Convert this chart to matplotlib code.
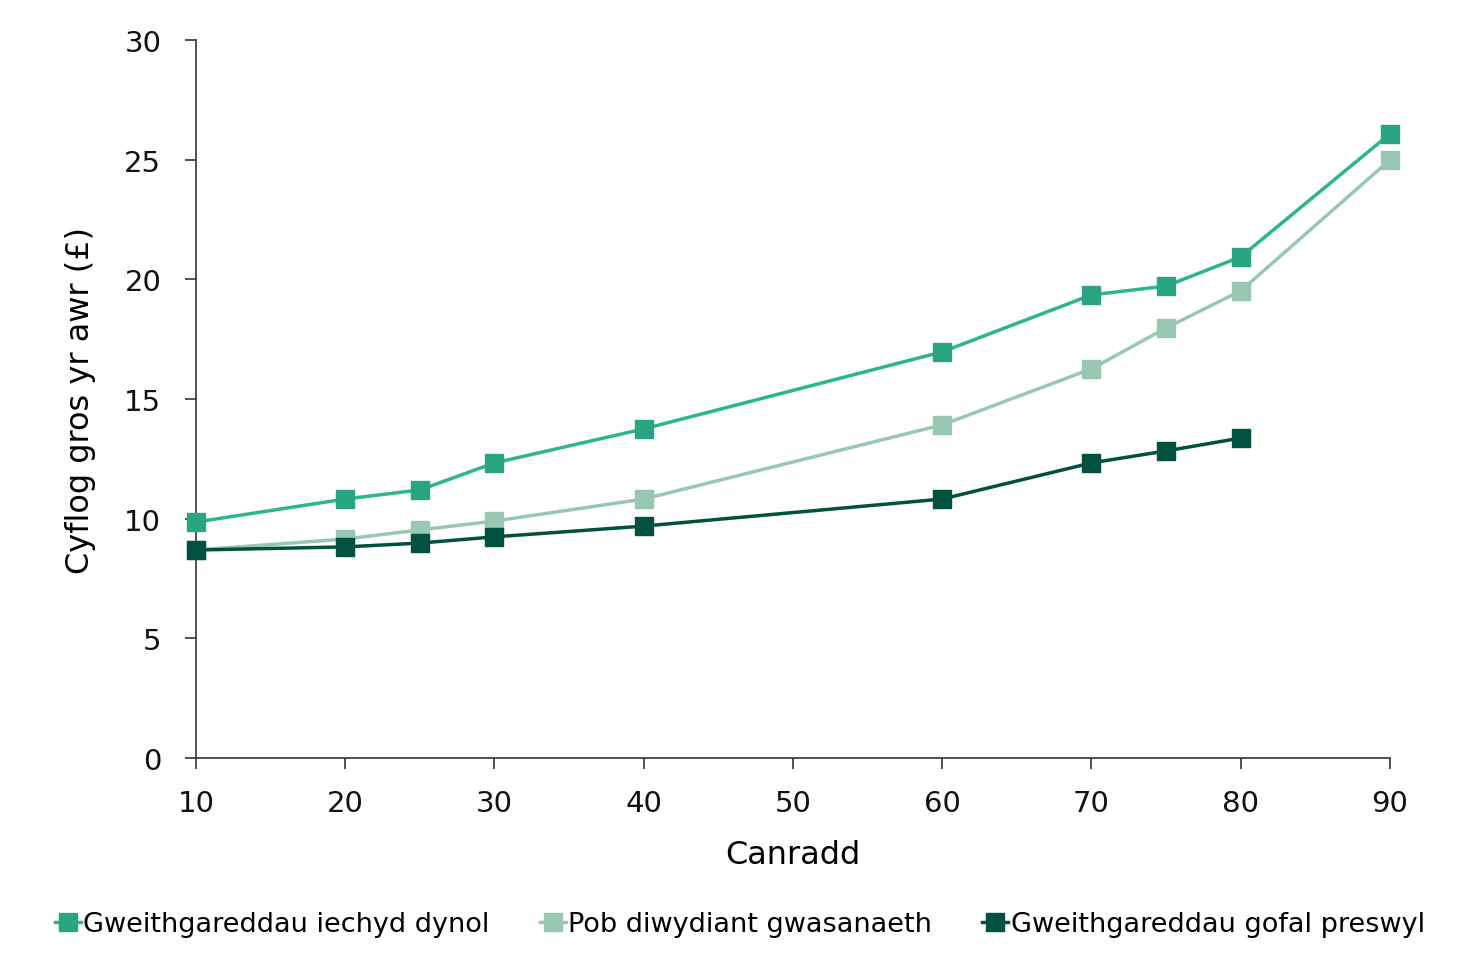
import matplotlib
matplotlib.use("Agg")
import matplotlib.pyplot as plt

percentiles = [10, 20, 25, 30, 40, 60, 70, 75, 80, 90]
iechyd = [9.86, 10.82, 11.2, 12.33, 13.75, 16.97, 19.35, 19.72, 20.94, 26.08]
pob = [8.69, 9.15, 9.53, 9.90, 10.82, 13.92, 16.26, 17.97, 19.52, 24.99]
gofal_x = [10, 20, 25, 30, 40, 60, 70, 75, 80]
gofal = [8.69, 8.82, 8.98, 9.24, 9.69, 10.82, 12.33, 12.83, 13.37]

labels = ["Gweithgareddau iechyd dynol", "Pob diwydiant gwasanaeth", "Gweithgareddau gofal preswyl"]
line_colors = ["#2DB68C", "#98C8B3", "#00513F"]
marker_colors = ["#2AA584", "#98C8B3", "#00513F"]

plt.rcParams['font.family'] = ['DejaVu Sans']

fig = plt.figure(figsize=(14.65, 9.70), dpi=100)
ax = fig.add_axes([196/1465, 1-759/970, (1390-196)/1465, (759-41)/970])

series = [(percentiles, iechyd), (percentiles, pob), (gofal_x, gofal)]
for (xs, ys), lab, lc, mc in zip(series, labels, line_colors, marker_colors):
    ax.plot(xs, ys, color=lc, lw=2.5, marker='s', markersize=12.5,
            markerfacecolor=mc, markeredgecolor=mc, label=lab, clip_on=False, zorder=3)

ax.set_xlim(10, 90)
ax.set_ylim(0, 30)
ax.set_xticks(range(10, 91, 10))
ax.set_yticks(range(0, 31, 5))
for s in ['top', 'right']:
    ax.spines[s].set_visible(False)
for s in ['left', 'bottom']:
    ax.spines[s].set_color('#333333')
    ax.spines[s].set_linewidth(1.2)
ax.tick_params(axis='both', direction='out', length=8, width=1.2, color='#333333',
               labelsize=21, colors='#111111')
ax.tick_params(axis='x', pad=14)
ax.tick_params(axis='y', pad=17)
ax.set_xlabel("Canradd", fontsize=23, labelpad=16)
ax.set_ylabel("Cyflog gros yr awr (£)", fontsize=23, labelpad=20)

fig.legend(loc='center', bbox_to_anchor=(0.505, 1-925/970), ncol=3, frameon=False,
           fontsize=19.5, handlelength=0.95, handletextpad=0.1, columnspacing=1.85,
           markerscale=1.0)

fig.savefig("out.png", dpi=100)
